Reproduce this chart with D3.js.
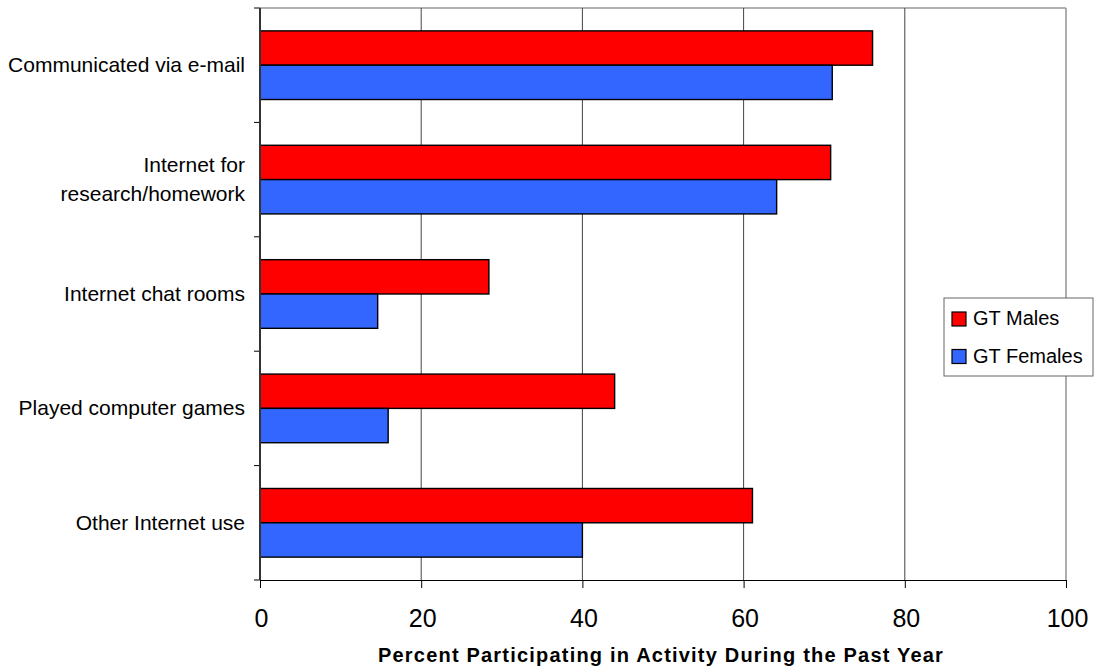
<!DOCTYPE html>
<html>
<head>
<meta charset="utf-8">
<script src="https://cdn.jsdelivr.net/npm/d3@7"></script>
<style>
  html, body { margin: 0; padding: 0; background: #fff; }
  svg { display: block; font-family: "Liberation Sans", Arial, sans-serif; }
</style>
</head>
<body>
<svg id="chart" width="1094" height="668"></svg>
<script>
// Activities (top to bottom)
const categories = [
  ["Communicated via e-mail"],
  ["Internet for", "research/homework"],
  ["Internet chat rooms"],
  ["Played computer games"],
  ["Other Internet use"]
];
const seriesNames = ["GT Males", "GT Females"];
const malesValues = [76.0, 70.8, 28.4, 44.0, 61.1];
const femalesValues = [71.0, 64.1, 14.6, 15.9, 40.0];
const xTicks = [0, 20, 40, 60, 80, 100];
const seriesColors = ["#FF0000", "#3366FF"];

const rows = categories.map((c, i) => ({
  key: i, label: c, values: [malesValues[i], femalesValues[i]]
}));

const svg = d3.select("#chart");
const plotLeft = 260, plotRight = 1066, plotTop = 8, plotBottom = 580;

const x = d3.scaleLinear().domain([0, 100]).range([plotLeft, plotRight]);
const y = d3.scaleBand().domain(rows.map(r => r.key)).range([plotTop, plotBottom])
  .paddingInner(0.4).paddingOuter(0.2);
const ySub = d3.scaleBand().domain([0, 1]).range([0, y.bandwidth()]);

// Plot frame: top and right borders
svg.append("line").attr("x1", plotLeft).attr("x2", plotRight).attr("y1", plotTop).attr("y2", plotTop)
  .attr("stroke", "#999").attr("stroke-width", 1.6);
svg.append("line").attr("x1", plotRight).attr("x2", plotRight).attr("y1", plotTop).attr("y2", plotBottom)
  .attr("stroke", "#999").attr("stroke-width", 1.6);

// Vertical gridlines
svg.append("g").selectAll("line")
  .data(xTicks.filter(t => t > 0 && t < 100))
  .join("line")
  .attr("x1", d => x(d)).attr("x2", d => x(d))
  .attr("y1", plotTop).attr("y2", plotBottom)
  .attr("stroke", "#444").attr("stroke-width", 1);

// Bars
const groups = svg.append("g").selectAll("g")
  .data(rows).join("g")
  .attr("transform", d => `translate(0,${y(d.key)})`);
groups.selectAll("rect")
  .data(d => d.values.map((v, s) => ({ v, s })))
  .join("rect")
  .attr("x", x(0))
  .attr("y", d => ySub(d.s))
  .attr("width", d => x(d.v) - x(0))
  .attr("height", ySub.bandwidth())
  .attr("fill", d => seriesColors[d.s])
  .attr("stroke", "#000").attr("stroke-width", 1.4);

// X axis
const xAxis = svg.append("g").attr("transform", `translate(0,${plotBottom})`)
  .call(d3.axisBottom(x).tickValues(xTicks).tickSize(8).tickPadding(10).tickSizeOuter(0));
xAxis.select(".domain").attr("stroke", "#000").attr("stroke-width", 1.2);
xAxis.selectAll(".tick line").attr("stroke", "#000");
xAxis.selectAll(".tick text")
  .attr("font-size", 25).attr("font-family", "Liberation Sans, Arial, sans-serif")
  .attr("fill", "#000").attr("dy", null).attr("y", 46.5).attr("dx", 1);

// Y axis: ticks at category boundaries
const boundaries = d3.range(rows.length + 1).map(i => plotTop + i * y.step());
svg.append("g").selectAll("line").data(boundaries).join("line")
  .attr("x1", plotLeft - 6).attr("x2", plotLeft).attr("y1", d => d).attr("y2", d => d)
  .attr("stroke", "#000").attr("stroke-width", 1);
svg.append("line").attr("x1", plotLeft).attr("x2", plotLeft).attr("y1", plotTop).attr("y2", plotBottom)
  .attr("stroke", "#333").attr("stroke-width", 2);

// Category labels
const labels = svg.append("g").selectAll("text").data(rows).join("text")
  .attr("text-anchor", "end")
  .attr("font-size", 21)
  .attr("fill", "#000")
  .attr("transform", d => `translate(245,${y(d.key) + y.bandwidth() / 2})`);
labels.each(function(d) {
  const n = d.label.length;
  d3.select(this).selectAll("tspan").data(d.label).join("tspan")
    .attr("x", 0)
    .attr("y", (t, i) => (i - (n - 1) / 2) * 29 + 7)
    .text(t => t);
});

// X axis title
svg.append("text")
  .attr("x", 661).attr("y", 662)
  .attr("text-anchor", "middle")
  .attr("font-size", 20).attr("font-weight", "bold")
  .attr("letter-spacing", 1.2)
  .attr("fill", "#000")
  .text("Percent Participating in Activity During the Past Year");

// Legend
const legend = svg.append("g").attr("transform", "translate(944,298)");
legend.append("rect").attr("width", 149).attr("height", 78)
  .attr("fill", "#fff").attr("stroke", "#666").attr("stroke-width", 1);
const items = legend.selectAll("g.item").data(seriesNames).join("g")
  .attr("class", "item")
  .attr("transform", (d, i) => `translate(8,${14 + i * 37.5})`);
items.append("rect").attr("width", 14).attr("height", 14)
  .attr("fill", (d, i) => seriesColors[i]).attr("stroke", "#000").attr("stroke-width", 1.2);
items.append("text").attr("x", 21).attr("y", 13)
  .attr("font-size", 20).attr("fill", "#000").text(d => d);
</script>
</body>
</html>
